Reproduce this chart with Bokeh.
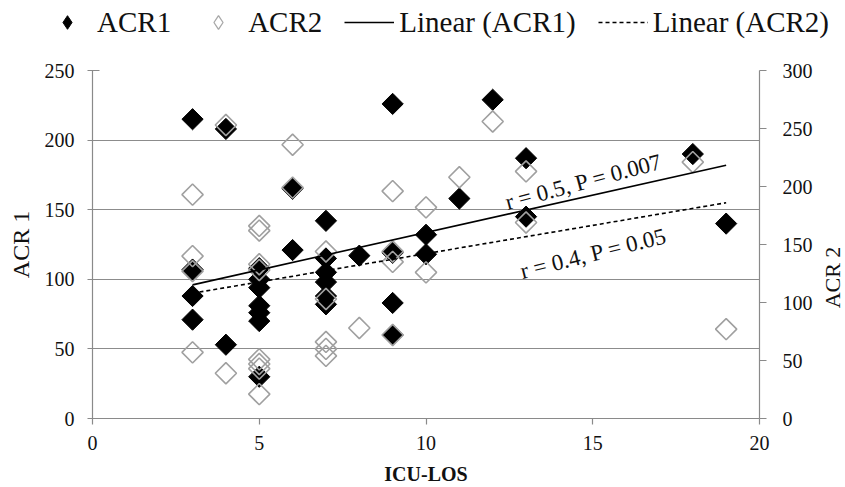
import math
from bokeh.plotting import figure
from bokeh.layouts import column, row
from bokeh.models import Range1d, LinearAxis, FixedTicker, Legend, LegendItem, Label
from bokeh.embed import file_html
from bokeh.resources import INLINE

# ---- data ----
icu_los_1 = [3, 3, 3, 3, 4, 4, 5, 5, 5, 5, 5, 5, 5, 6, 6, 7, 7, 7, 7, 7, 7, 8,
             9, 9, 9, 9, 10, 10, 11, 12, 13, 13, 18, 19]
acr1 = [215, 107, 88, 71, 208, 53, 108, 100, 94, 81, 76, 70, 30, 165, 121,
        142, 115, 105, 98, 88, 82, 117, 226, 119, 83, 60, 132, 118, 158, 229,
        187, 145, 190, 140]

icu_los_2 = [3, 3, 3, 3, 4, 4, 5, 5, 5, 5, 5, 5, 5, 5, 6, 6, 7, 7, 7, 7, 7, 8,
             9, 9, 9, 9, 10, 10, 11, 12, 13, 13, 18, 19]
acr2 = [193, 140, 127, 57, 253, 39, 166, 162, 133, 128, 51, 47, 43, 21, 236,
        199, 144, 103, 66, 60, 54, 78, 196, 144, 135, 72, 182, 126, 208, 256,
        213, 169, 221, 77]

trend_x = [3, 19]
acr1_trend = [96, 182]
acr2_trend = [108, 186]

x_ticks = [0, 5, 10, 15, 20]
left_ticks = [0, 50, 100, 150, 200, 250]
right_ticks = [0, 50, 100, 150, 200, 250, 300]

series_labels = ["ACR1", "ACR2", "Linear (ACR1)", "Linear (ACR2)"]

FONT = "Liberation Serif"
AXIS_GRAY = "#8a8a8a"
TXT = "#111111"

STYLE1 = dict(marker="square", angle=math.pi / 4, size=15,
              fill_color="black", line_color="black", line_width=1)
STYLE2 = dict(marker="square", angle=math.pi / 4, size=15,
              fill_color=None, line_color="#a0a0a0", line_width=1.6)
LSTYLE1 = dict(line_color="black", line_width=1.6)
LSTYLE2 = dict(line_color="black", line_width=1.6, line_dash="4 3")

MAIN_H = 443
STRIP_W = 30

# ---------------- main chart ----------------
p = figure(width=845 - STRIP_W, height=MAIN_H, x_range=Range1d(0, 20), y_range=Range1d(0, 250),
           output_backend="svg", toolbar_location=None,
           min_border_left=92, min_border_right=53, min_border_top=26, min_border_bottom=67)
p.frame_align = False
p.extra_y_ranges = {"right": Range1d(0, 300)}
p.outline_line_color = None
p.background_fill_color = "white"

p.xgrid.visible = False
p.ygrid.ticker = FixedTicker(ticks=left_ticks)
p.ygrid.grid_line_color = "#8c8c8c"
p.ygrid.grid_line_width = 1.2


def style_axis(ax):
    ax.axis_line_color = AXIS_GRAY
    ax.axis_line_width = 1.2
    ax.major_tick_line_color = AXIS_GRAY
    ax.major_tick_line_width = 1.2
    ax.minor_tick_line_color = None
    ax.major_label_text_font = FONT
    ax.major_label_text_font_size = "20px"
    ax.major_label_text_color = TXT
    ax.axis_label_text_font = FONT
    ax.axis_label_text_color = TXT
    ax.axis_label_text_font_style = "normal"


xa = p.xaxis[0]
style_axis(xa)
xa.ticker = FixedTicker(ticks=x_ticks)
xa.major_tick_in = 0
xa.major_tick_out = 6
xa.major_label_standoff = 11
xa.axis_label = "ICU-LOS"
xa.axis_label_text_font_size = "20px"
xa.axis_label_text_font_style = "bold"
xa.axis_label_standoff = 10

ya = p.yaxis[0]
style_axis(ya)
ya.ticker = FixedTicker(ticks=left_ticks)
ya.major_tick_in = 7
ya.major_tick_out = 5
ya.major_label_standoff = 13
ya.axis_label = "ACR 1"
ya.axis_label_text_font_size = "24px"
ya.axis_label_standoff = 8

ra = LinearAxis(y_range_name="right", ticker=FixedTicker(ticks=right_ticks))
style_axis(ra)
ra.major_tick_in = 0
ra.major_tick_out = 7
ra.major_label_standoff = 16
p.add_layout(ra, "right")

p.scatter(icu_los_1, acr1, **STYLE1)
p.scatter(icu_los_2, acr2, y_range_name="right", **STYLE2)
p.line(trend_x, acr1_trend, **LSTYLE1)
p.line(trend_x, acr2_trend, y_range_name="right", **LSTYLE2)

ann1 = Label(x=12.39, y=155, text="r = 0.5, P = 0.007", angle=15, angle_units="deg",
             text_font=FONT, text_font_size="23px", text_color=TXT,
             text_baseline="alphabetic", text_align="left")
ann2 = Label(x=12.84, y=105.5, text="r = 0.4, P = 0.05", angle=14, angle_units="deg",
             text_font=FONT, text_font_size="23px", text_color=TXT,
             text_baseline="alphabetic", text_align="left")
p.add_layout(ann1)
p.add_layout(ann2)

# ---------------- right strip holding the right-axis title ----------------
rs = figure(width=STRIP_W, height=MAIN_H, x_range=Range1d(0, STRIP_W), y_range=Range1d(0, MAIN_H),
            output_backend="svg", toolbar_location=None,
            min_border_left=0, min_border_right=0, min_border_top=0, min_border_bottom=0)
rs.frame_align = False
rs.axis.visible = False
rs.grid.visible = False
rs.outline_line_color = None
rs.add_layout(Label(x=16.5, y=210, text="ACR 2", angle=90, angle_units="deg",
                    text_align="center", text_baseline="middle",
                    text_font=FONT, text_font_size="22px", text_color=TXT))

# ---------------- legend strip (same series, drawn out of view) ----------------
lg = figure(width=845, height=44, x_range=Range1d(100, 101), y_range=Range1d(1000, 1001),
            output_backend="svg", toolbar_location=None,
            min_border_left=0, min_border_right=0, min_border_top=0, min_border_bottom=0)
lg.frame_align = False
lg.axis.visible = False
lg.grid.visible = False
lg.outline_line_color = None
g1 = lg.scatter(icu_los_1, acr1, marker="diamond", fill_color="black",
                line_color="black", line_width=1)
g2 = lg.scatter(icu_los_2, acr2, marker="diamond", fill_color=None,
                line_color="#a8a8a8", line_width=1.3)
g3 = lg.line(trend_x, acr1_trend, **LSTYLE1)
g4 = lg.line(trend_x, acr2_trend, **LSTYLE2)

legend = Legend(items=[LegendItem(label=lab, renderers=[r])
                       for lab, r in zip(series_labels, [g1, g2, g3, g4])],
                orientation="horizontal", location=(42, 5),
                glyph_width=50, glyph_height=34, label_standoff=5, spacing=22,
                padding=0, margin=0, border_line_color=None, background_fill_alpha=0,
                label_text_font=FONT, label_text_font_size="29px",
                label_text_color=TXT)
lg.add_layout(legend)

layout = column(lg, row(p, rs, spacing=0), spacing=0)
open("out.html", "w").write(file_html(layout, INLINE))
